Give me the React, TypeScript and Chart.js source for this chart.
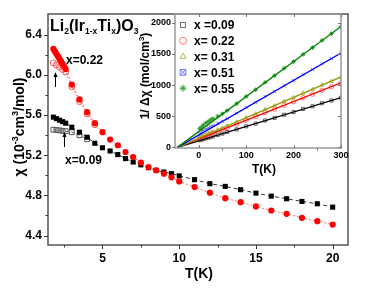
import React, { useEffect, useRef } from "react";
import { Chart, registerables } from "chart.js";
import { drawPoint } from "chart.js/helpers";

Chart.register(...registerables);

const FONT = '"Liberation Sans", Arial, sans-serif';

// ---------- main panel data: chi (10^-3 cm^3/mol) vs T (K) ----------
const BLACK_T = [1.8, 2.0, 2.2, 2.4, 2.6, 3.0, 3.5, 4.0, 4.5, 5.0, 5.5, 6.0, 6.5, 7.0, 7.5, 8.0, 8.5, 9.0, 9.5, 10, 11, 12, 13, 14, 15, 16, 17, 18, 19, 20];
const BLACK_CHI = [5.58, 5.565, 5.55, 5.535, 5.52, 5.48, 5.43, 5.38, 5.32, 5.275, 5.243, 5.207, 5.167, 5.133, 5.105, 5.077, 5.05, 5.033, 5.017, 4.995, 4.957, 4.917, 4.89, 4.857, 4.823, 4.793, 4.767, 4.74, 4.717, 4.683];

const RED_T = [1.8, 1.9, 2.0, 2.1, 2.2, 2.3, 2.4, 2.5, 2.6, 3.0, 3.5, 4.0, 4.5, 5.0, 5.5, 6.0, 6.5, 7.0, 7.5, 8.0, 8.5, 9.0, 9.5, 10, 11, 12, 13, 14, 15, 16, 17, 18, 19, 20];
const RED_CHI = [6.26, 6.235, 6.21, 6.185, 6.16, 6.135, 6.11, 6.085, 6.06, 5.905, 5.757, 5.63, 5.52, 5.43, 5.357, 5.3, 5.233, 5.183, 5.127, 5.083, 5.05, 5.017, 4.98, 4.94, 4.883, 4.827, 4.773, 4.733, 4.69, 4.65, 4.617, 4.577, 4.543, 4.51];

const RED_OPEN_T = [1.8, 2.0, 2.2, 2.4, 2.6, 3.0, 3.5, 4.0, 4.5];
const RED_OPEN_CHI = [6.12, 6.1, 6.08, 6.055, 6.03, 5.885, 5.735, 5.612, 5.505];

const BLACK_OPEN_T = [1.8, 2.0, 2.2, 2.4, 2.6, 3.0, 3.5, 4.0];
const BLACK_OPEN_CHI = [5.455, 5.452, 5.448, 5.444, 5.44, 5.43, 5.4, 5.36];

const MAIN_X_TICKS = [5, 10, 15, 20];
const MAIN_X_MINOR = [2.5, 7.5, 12.5, 17.5];
const MAIN_Y_TICKS = [4.4, 4.8, 5.2, 5.6, 6.0, 6.4];
const MAIN_Y_MINOR = [4.6, 5.0, 5.4, 5.8, 6.2];

// ---------- inset data: 1/delta-chi (mol/cm^3) vs T (K) ----------
const INSET_T = [2, 6, 10, 15, 20, 25, 30, 40, 50, 60, 80, 100, 120, 140, 160, 180, 200, 220, 240, 260, 280, 300];
const INV_009 = [115, 124, 133, 144, 155, 165, 176, 198, 221, 246, 288, 338, 381, 431, 473, 524, 566, 617, 659, 709, 752, 797];
const INV_022 = [145, 157, 170, 185, 199, 213, 228, 257, 286, 317, 373, 437, 493, 557, 613, 677, 733, 797, 853, 917, 973, 1032];
const INV_031 = [165, 180, 195, 210, 225, 240, 255, 283, 313, 346, 407, 478, 538, 609, 669, 739, 800, 871, 931, 1001, 1062, 1128];
const INV_051 = [230, 255, 275, 295, 315, 335, 352, 386, 420, 463, 547, 640, 722, 815, 897, 991, 1073, 1167, 1248, 1342, 1424, 1512];
const INV_055 = [300, 330, 360, 390, 415, 440, 462, 500, 540, 592, 700, 818, 925, 1043, 1150, 1268, 1375, 1493, 1600, 1718, 1824, 1936];

const FIT_T = [-45, 300];
const FIT_009 = [0, 800];
const FIT_022 = [0, 1035];
const FIT_031 = [0, 1130];
const FIT_051 = [0, 1515];
const FIT_055 = [0, 1940];

const INSET_LABELS = ["x =0.09", "x= 0.22", "x= 0.31", "x= 0.51", "x= 0.55"];
const INSET_X_TICKS = [0, 100, 200, 300];
const INSET_X_MINOR = [50, 150, 250];
const INSET_Y_TICKS = [0, 500, 1000, 1500, 2000];

const INSET_LINE_COLORS = ["#000000", "#ff0000", "#9a9a10", "#0000ff", "#008000"];
const INSET_MARK_COLORS = ["#666666", "#ff7070", "#b8b850", "#7070ff", "#2a9a2a"];
const INSET_STYLES = ["rect", "circle", "triangle", "crossRot", "star"];

const pts = (xs: number[], ys: number[]) => xs.map((x, i) => ({ x, y: ys[i] }));

type Part = { t: string; s: number; dy?: number };
function richWidth(ctx: CanvasRenderingContext2D, parts: Part[]) {
  let w = 0;
  for (const p of parts) {
    ctx.font = `bold ${p.s}px ${FONT}`;
    w += ctx.measureText(p.t).width;
  }
  return w;
}
function drawRich(ctx: CanvasRenderingContext2D, parts: Part[], x: number, y: number) {
  let cx = x;
  for (const p of parts) {
    ctx.font = `bold ${p.s}px ${FONT}`;
    ctx.fillText(p.t, cx, y + (p.dy || 0));
    cx += ctx.measureText(p.t).width;
  }
}
function arrowUp(ctx: CanvasRenderingContext2D, x: number, y0: number, y1: number) {
  ctx.beginPath();
  ctx.moveTo(x, y0);
  ctx.lineTo(x, y1 + 2);
  ctx.stroke();
  ctx.beginPath();
  ctx.moveTo(x, y1);
  ctx.lineTo(x - 2, y1 + 5);
  ctx.lineTo(x + 2, y1 + 5);
  ctx.closePath();
  ctx.fill();
}

const mainDecor = {
  id: "mainDecor",
  afterDraw(chart: any) {
    const { ctx, chartArea: a, scales } = chart;
    const x = scales.x, y = scales.y;
    ctx.save();
    ctx.strokeStyle = "#555";
    ctx.lineWidth = 1.5;
    ctx.strokeRect(a.left, a.top, a.right - a.left, a.bottom - a.top);
    ctx.lineWidth = 1;
    ctx.strokeStyle = "#333";
    ctx.beginPath();
    for (const v of MAIN_Y_TICKS) { const p = Math.round(y.getPixelForValue(v)) + 0.5; ctx.moveTo(a.left - 4, p); ctx.lineTo(a.left, p); }
    for (const v of MAIN_Y_MINOR) { const p = Math.round(y.getPixelForValue(v)) + 0.5; ctx.moveTo(a.left - 2.5, p); ctx.lineTo(a.left, p); }
    for (const v of MAIN_X_TICKS) { const p = Math.round(x.getPixelForValue(v)) + 0.5; ctx.moveTo(p, a.bottom); ctx.lineTo(p, a.bottom + 4); }
    for (const v of MAIN_X_MINOR) { const p = Math.round(x.getPixelForValue(v)) + 0.5; ctx.moveTo(p, a.bottom); ctx.lineTo(p, a.bottom + 2.5); }
    ctx.stroke();

    ctx.fillStyle = "#000";
    ctx.textAlign = "left";
    ctx.textBaseline = "alphabetic";
    // compound name
    drawRich(ctx, [
      { t: "Li", s: 16 }, { t: "2", s: 8.5, dy: 3 },
      { t: "(Ir", s: 16 }, { t: "1-x", s: 8.5, dy: 3 },
      { t: "Ti", s: 16 }, { t: "x", s: 8.5, dy: 3 },
      { t: ")O", s: 16 }, { t: "3", s: 8.5, dy: 3 },
    ], 50, 31);
    ctx.font = `bold 12px ${FONT}`;
    ctx.fillText("x=0.22", 66, 64);
    ctx.fillText("x=0.09", 65, 164);
    ctx.strokeStyle = "#000";
    ctx.lineWidth = 1;
    arrowUp(ctx, 55.5, 87, 72);
    arrowUp(ctx, 64.5, 147, 132);

    // axis titles
    ctx.font = `bold 14px ${FONT}`;
    ctx.textAlign = "center";
    ctx.textBaseline = "middle";
    ctx.fillText("T(K)", (a.left + a.right) / 2 + 1, 274);
    const yParts: Part[] = [
      { t: "\u03c7 (10", s: 14 }, { t: "-3", s: 9, dy: -6 },
      { t: "cm", s: 14 }, { t: "3", s: 9, dy: -6 }, { t: "/mol)", s: 14 },
    ];
    ctx.save();
    ctx.translate(24, 127);
    ctx.rotate(-Math.PI / 2);
    ctx.textAlign = "left";
    ctx.textBaseline = "alphabetic";
    const w = richWidth(ctx, yParts);
    drawRich(ctx, yParts, -w / 2, 0);
    ctx.restore();
    ctx.restore();
  },
};

const insetDecor = {
  id: "insetDecor",
  afterDraw(chart: any) {
    const { ctx, chartArea: a, scales } = chart;
    const x = scales.x, y = scales.y;
    ctx.save();
    ctx.strokeStyle = "#999";
    ctx.lineWidth = 1.5;
    ctx.strokeRect(a.left, a.top, a.right - a.left, a.bottom - a.top);
    ctx.lineWidth = 1;
    ctx.strokeStyle = "#777";
    ctx.beginPath();
    for (const v of INSET_X_TICKS) {
      const p = Math.round(x.getPixelForValue(v)) + 0.5;
      ctx.moveTo(p, a.bottom); ctx.lineTo(p, a.bottom - 3);
      ctx.moveTo(p, a.top); ctx.lineTo(p, a.top + 3);
    }
    for (const v of INSET_X_MINOR) {
      const p = Math.round(x.getPixelForValue(v)) + 0.5;
      ctx.moveTo(p, a.bottom); ctx.lineTo(p, a.bottom + 2.5);
    }
    for (const v of INSET_Y_TICKS) {
      const p = Math.round(y.getPixelForValue(v)) + 0.5;
      ctx.moveTo(a.left - 3, p); ctx.lineTo(a.left, p);
      ctx.moveTo(a.right, p); ctx.lineTo(a.right - 3, p);
    }
    ctx.stroke();

    // legend
    ctx.textAlign = "left";
    ctx.textBaseline = "middle";
    ctx.font = `bold 12px ${FONT}`;
    INSET_LABELS.forEach((lab, i) => {
      const cy = a.top + 11 + i * 15.8;
      const cx = a.left + 8;
      ctx.strokeStyle = INSET_MARK_COLORS[i];
      ctx.fillStyle = i === 4 ? INSET_MARK_COLORS[i] : "rgba(0,0,0,0)";
      ctx.lineWidth = 1;
      drawPoint(ctx, { pointStyle: INSET_STYLES[i], radius: 3.5, rotation: 0, borderWidth: 1 } as any, cx, cy);
      if (i === 3) drawPoint(ctx, { pointStyle: "rect", radius: 4, rotation: 0, borderWidth: 1 } as any, cx, cy);
      ctx.fillStyle = "#000";
      ctx.fillText(lab, a.left + 19, cy + 1);
    });

    ctx.font = `bold 12px ${FONT}`;
    ctx.textAlign = "center";
    ctx.fillText("T(K)", 264, 170);
    const yParts: Part[] = [
      { t: "1/ \u0394\u03c7 (mol/cm", s: 12 }, { t: "3", s: 8, dy: -5 }, { t: ")", s: 12 },
    ];
    ctx.save();
    ctx.translate(149, 76);
    ctx.rotate(-Math.PI / 2);
    ctx.textAlign = "left";
    ctx.textBaseline = "alphabetic";
    const w = richWidth(ctx, yParts);
    drawRich(ctx, yParts, -w / 2, 0);
    ctx.restore();
    ctx.restore();
  },
};

export default function App() {
  const mainRef = useRef<HTMLCanvasElement>(null);
  const insetRef = useRef<HTMLCanvasElement>(null);

  useEffect(() => {
    const tickFont = { family: FONT, size: 12, weight: "bold" as const };
    const main = new Chart(mainRef.current!, {
      type: "scatter",
      data: {
        datasets: [
          {
            data: pts(RED_T, RED_CHI), showLine: true, borderColor: "rgba(255,70,70,0.8)", borderWidth: 1, borderDash: [2, 2],
            pointStyle: "circle", pointRadius: 3.1, pointBackgroundColor: "#ff0000", pointBorderColor: "#ff0000", pointBorderWidth: 0,
          },
          {
            data: pts(BLACK_T, BLACK_CHI), showLine: true, borderColor: "#333", borderWidth: 1, borderDash: [4, 3],
            pointStyle: "rect", pointRadius: 3.6, pointBackgroundColor: "#000", pointBorderColor: "#000", pointBorderWidth: 0,
          },
          {
            data: pts(RED_OPEN_T, RED_OPEN_CHI), showLine: true, borderColor: "rgba(255,90,90,0.7)", borderWidth: 1, borderDash: [2, 2],
            pointStyle: "circle", pointRadius: 3, pointBackgroundColor: "rgba(0,0,0,0)", pointBorderColor: "#ff5050", pointBorderWidth: 1,
          },
          {
            data: pts(BLACK_OPEN_T, BLACK_OPEN_CHI), showLine: true, borderColor: "#666", borderWidth: 1, borderDash: [3, 3],
            pointStyle: "rect", pointRadius: 3.4, pointBackgroundColor: "rgba(0,0,0,0)", pointBorderColor: "#555", pointBorderWidth: 1,
          },
        ],
      },
      options: {
        responsive: false,
        animation: false,
        devicePixelRatio: 1,
        layout: { padding: { left: 0, top: 14, right: 26, bottom: 0 } },
        plugins: { legend: { display: false }, tooltip: { enabled: false } },
        scales: {
          x: {
            type: "linear", min: 1.45, max: 21,
            grid: { display: false, drawTicks: false }, border: { display: false },
            ticks: { font: tickFont, color: "#000", padding: 6, autoSkip: false, maxRotation: 0, callback: (v: any) => String(v) },
            afterBuildTicks: (s: any) => { s.ticks = MAIN_X_TICKS.map((v) => ({ value: v })); },
            afterFit: (s: any) => { s.height = 44; },
          },
          y: {
            type: "linear", min: 4.306, max: 6.608,
            grid: { display: false, drawTicks: false }, border: { display: false },
            ticks: { font: tickFont, color: "#000", padding: 6, autoSkip: false, callback: (v: any) => Number(v).toFixed(1) },
            afterBuildTicks: (s: any) => { s.ticks = MAIN_Y_TICKS.map((v) => ({ value: v })); },
            afterFit: (s: any) => { s.width = 48; },
          },
        },
      } as any,
      plugins: [mainDecor],
    });

    const invs = [INV_009, INV_022, INV_031, INV_051, INV_055];
    const fits = [FIT_009, FIT_022, FIT_031, FIT_051, FIT_055];
    const lineSets = fits.map((f, i) => ({
      data: pts(FIT_T, f), showLine: true, borderColor: INSET_LINE_COLORS[i], borderWidth: 1.3, pointRadius: 0,
    }));
    const markSets = invs.map((d, i) => ({
      data: pts(INSET_T, d), showLine: false, pointStyle: INSET_STYLES[i], pointRadius: 2.2,
      pointBorderColor: INSET_MARK_COLORS[i], pointBackgroundColor: i === 4 ? INSET_MARK_COLORS[i] : "rgba(0,0,0,0)", pointBorderWidth: 1,
    }));
    const smallFont = { family: FONT, size: 9, weight: "bold" as const };
    const inset = new Chart(insetRef.current!, {
      type: "scatter",
      data: { datasets: [...lineSets.reverse(), ...markSets.reverse()] },
      options: {
        responsive: false,
        animation: false,
        devicePixelRatio: 1,
        layout: { padding: { left: 135, top: 14, right: 33, bottom: 121 } },
        plugins: { legend: { display: false }, tooltip: { enabled: false } },
        scales: {
          x: {
            type: "linear", min: -50, max: 300,
            grid: { display: false, drawTicks: false }, border: { display: false },
            ticks: { font: smallFont, color: "#000", padding: 2, autoSkip: false, maxRotation: 0, callback: (v: any) => String(v) },
            afterBuildTicks: (s: any) => { s.ticks = INSET_X_TICKS.map((v) => ({ value: v })); },
            afterFit: (s: any) => { s.height = 20; },
          },
          y: {
            type: "linear", min: -10, max: 2140,
            grid: { display: false, drawTicks: false }, border: { display: false },
            ticks: { font: smallFont, color: "#000", padding: 4, autoSkip: false, callback: (v: any) => String(v) },
            afterBuildTicks: (s: any) => { s.ticks = INSET_Y_TICKS.map((v) => ({ value: v })); },
            afterFit: (s: any) => { s.width = 40; },
          },
        },
      } as any,
      plugins: [insetDecor],
    });

    return () => {
      main.destroy();
      inset.destroy();
    };
  }, []);

  return (
    <div style={{ position: "fixed", left: 0, top: 0, width: 374, height: 289, background: "#fff" }}>
      <canvas ref={mainRef} width={374} height={289} style={{ position: "absolute", left: 0, top: 0 }} />
      <canvas ref={insetRef} width={374} height={289} style={{ position: "absolute", left: 0, top: 0 }} />
    </div>
  );
}
